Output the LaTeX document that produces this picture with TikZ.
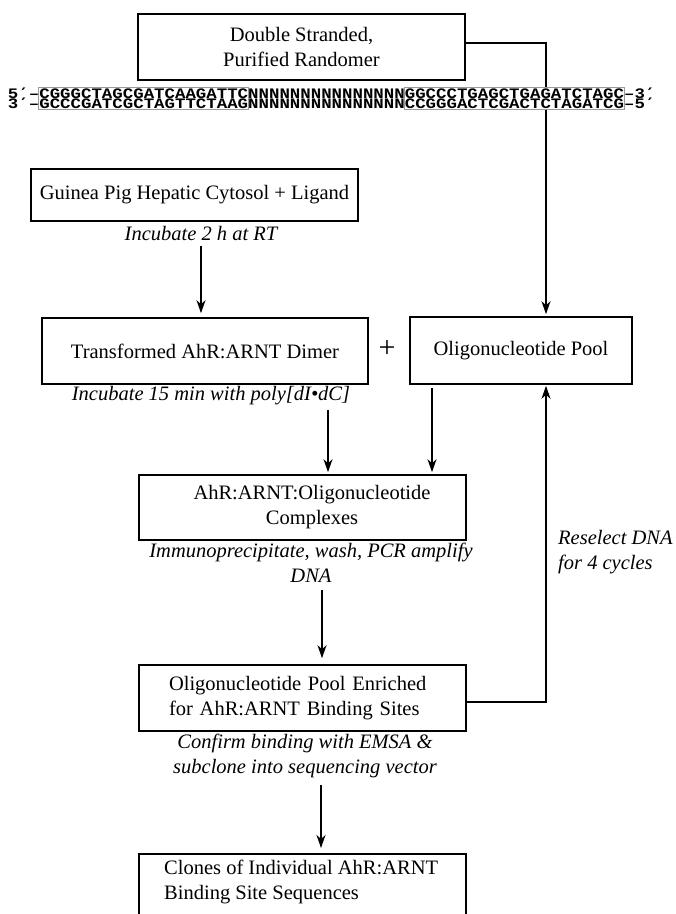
\documentclass[tikz,border=0pt]{standalone}
\usepackage{fontspec}
\setmainfont{Liberation Serif}
\newfontfamily\dnafont[FakeStretch=1.2]{Liberation Mono Bold}
\newfontfamily\primefont[FakeStretch=1.2]{DejaVu Sans Mono Bold}
\usetikzlibrary{arrows.meta,fit,backgrounds}
\newcommand\mainsz{\fontsize{20.5}{25}\selectfont}
\newcommand\dnasz{\dnafont\fontsize{14.5}{14.5}\selectfont}
\newcommand\pr{{\primefont\fontsize{14.5}{14.5}\selectfont ′}}
\begin{document}
\begin{tikzpicture}[x=1pt,y=-1pt,
  box/.style={draw=black, line width=1.6pt, inner sep=0pt, font=\mainsz, align=center},
  lbl/.style={font=\mainsz\itshape, align=center, inner sep=0pt},
  txt/.style={font=\mainsz, inner sep=0pt},
  dna/.style={font=\dnasz, inner sep=0pt, outer sep=0pt, anchor=base west},
  seqbox/.style={draw=black!40, line width=0.8pt, inner xsep=0.5pt, inner ysep=1pt},
  wipe/.style={fill=white, draw=none, inner xsep=0.5pt, inner ysep=1pt},
  tip/.style={-{Stealth[length=13pt,width=9pt,inset=4pt]}},
  flow/.style={line width=1.6pt, tip},
  link/.style={line width=1.6pt}
]
\clip (0,0) rectangle (676,914);

% boxes
\node[box, minimum width=327pt, minimum height=66pt] (rand) at (301.5,47) {Double Stranded,\\Purified Randomer};
\node[box, minimum width=327pt, minimum height=52pt] (guin) at (194.5,195) {Guinea Pig Hepatic Cytosol + Ligand};
\node[box, minimum width=326pt, minimum height=66pt] (trans) at (205,351) {Transformed AhR:ARNT Dimer};
\node[box, minimum width=222pt, minimum height=67pt] (pool) at (521,350.5) {Oligonucleotide Pool};
\node[box, minimum width=327pt, minimum height=65pt] (cplx) at (302.5,507.5) {};
\node[txt, align=center] (cplxT) at (312,507.5) {AhR:ARNT:Oligonucleotide\\Complexes};
\node[box, text width=267pt, inner xsep=30pt, align=left, minimum height=66pt] (enr) at (302.5,698) {Oligonucleotide Pool Enriched\\for AhR:ARNT Binding Sites};
\node[box, minimum width=327pt, minimum height=80pt, anchor=north] (clo) at (302.5,853) {};
\node[txt, align=left, anchor=west] (cloT) at (164,881.5) {Clones of Individual AhR:ARNT\\Binding Site Sequences};

% plus sign
\node[inner sep=0pt, font=\fontsize{30}{30}\selectfont] (plus) at (387,349) {+};

% italic labels
\node[lbl] (inc2) at (201,234) {Incubate 2 h at RT};
\node[lbl] (inc15) at (211,396) {Incubate 15 min with poly[dI•dC]};
\node[lbl] (imm) at (311,563) {Immunoprecipitate, wash, PCR amplify\\DNA};
\node[lbl] (conf) at (305,755.5) {Confirm binding with EMSA \&\\subclone into sequencing vector};
\node[lbl, align=left, anchor=west] (resel) at (558,552) {Reselect DNA\\for 4 cycles};

% DNA sequence
\node[dna] (a1) at (8,98) {5\pr–};
\node[dna] (b1) at (a1.base east) {CGGGCTAGCGATCAAGATTC};
\node[dna] (c1) at (b1.base east) {NNNNNNNNNNNNNNN};
\node[dna] (d1) at (c1.base east) {GGCCCTGAGCTGAGATCTAGC};
\node[dna] (e1) at (d1.base east) {–3\pr};
\node[dna] (a2) at (8,108) {3\pr–};
\node[dna] (b2) at (a2.base east) {GCCCGATCGCTAGTTCTAAG};
\node[dna] (c2) at (b2.base east) {NNNNNNNNNNNNNNN};
\node[dna] (d2) at (c2.base east) {CCGGGACTCGACTCTAGATCG};
\node[dna] (e2) at (d2.base east) {–5\pr};
\node[seqbox, fit=(b1)(b2)] (lbox) {};
\node[seqbox, fit=(d1)(d2)] (rbox) {};

% connectors
\begin{pgfonlayer}{background}
\draw[flow, shorten >=2pt] ([yshift=4pt]rand.east) -| ([xshift=25pt]pool.north);
\node[wipe, fit=(d1)(d2)] (rwipe) {};
\end{pgfonlayer}
\draw[flow, shorten >=4pt] ([yshift=-5pt]inc2.south) -- (inc2.south |- trans.north);
\draw[flow, shorten >=2pt] ([xshift=25.5pt,yshift=-4pt]cplx.north |- inc15.south) -- ([xshift=25.5pt]cplx.north);
\draw[flow, shorten >=2pt] ([xshift=-89pt,yshift=-3pt]pool.south) -- ([xshift=-89pt]pool.south |- cplx.north);
\draw[flow, shorten >=6pt] ([xshift=19.5pt,yshift=-7pt]cplx.south |- imm.south) -- ([xshift=19.5pt]enr.north);
\draw[flow, shorten >=5pt] ([xshift=18.5pt,yshift=-7pt]enr.south |- conf.south) -- ([xshift=18.5pt]clo.north);
\draw[flow, shorten >=1pt] ([yshift=-4pt]enr.east) -| ([xshift=25pt]pool.south);
\end{tikzpicture}
\end{document}
